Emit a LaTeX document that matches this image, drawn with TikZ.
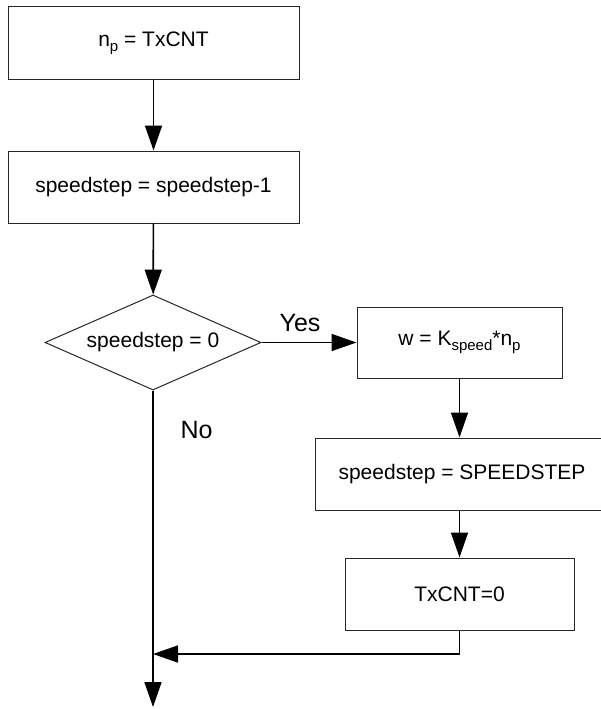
\documentclass[tikz,border=0pt]{standalone}
\usepackage{fontspec}
\setmainfont{Liberation Sans}
\usetikzlibrary{shapes.geometric,arrows.meta}

\newcommand{\lowsub}[1]{\raisebox{-0.45ex}{\fontsize{15}{15}\selectfont #1}}

\tikzset{
  stepbox/.style={draw=black!85,line width=1pt,rectangle,inner sep=0pt,
    font=\fontsize{21}{25}\selectfont},
  testbox/.style={draw=black!85,line width=1pt,diamond,aspect=2.27,inner sep=0pt,
    minimum width=216pt,minimum height=95pt,font=\fontsize{21}{25}\selectfont},
  flow/.style={line width=1.6pt,-{Triangle[length=25pt,width=17pt]}},
  tag/.style={font=\fontsize{25}{28}\selectfont}
}

\begin{document}
\begin{tikzpicture}[x=1pt,y=-1pt]
  \useasboundingbox (0,0) rectangle (600,709);

  % Linke Spalte
  \node[stepbox,minimum width=291pt,minimum height=72pt] (init) at (153.5,43) {n\lowsub{p} = TxCNT};
  \node[stepbox,minimum width=291pt,minimum height=72pt] (dec) at (153.5,187) {speedstep = speedstep-1};
  \node[testbox] (test) at (153,342.5) {speedstep = 0};

  % Rechte Spalte
  \node[stepbox,minimum width=205pt,minimum height=71pt] (speed) at (459.5,342.5) {w = K\lowsub{speed}*n\lowsub{p}};
  \node[stepbox,minimum width=294pt,minimum height=72pt] (reload) at (462,474) {speedstep = SPEEDSTEP};
  \node[stepbox,minimum width=229pt,minimum height=72pt] (clear) at (459.5,594) {TxCNT=0};

  % Hilfspunkte
  \coordinate (turn) at (459.5,654);
  \coordinate (join) at (153,654);
  \coordinate (exit) at (153,707);

  % Beschriftung
  \node[tag] (yes) at (300,323) {Yes};
  \node[tag] (no) at (196.5,430) {No};

  % Pfeile
  \draw[flow] (init) -- (dec);
  \draw[flow] (dec) -- (test);
  \draw[flow] (test) -- (speed);
  \draw[flow] (speed) -- (speed.south |- reload.north);
  \draw[flow] (speed.south |- reload.south) -- (clear);
  \draw[flow] (clear) -- (turn) -- (join);
  \draw[flow] (test) -- (exit);
\end{tikzpicture}
\end{document}
